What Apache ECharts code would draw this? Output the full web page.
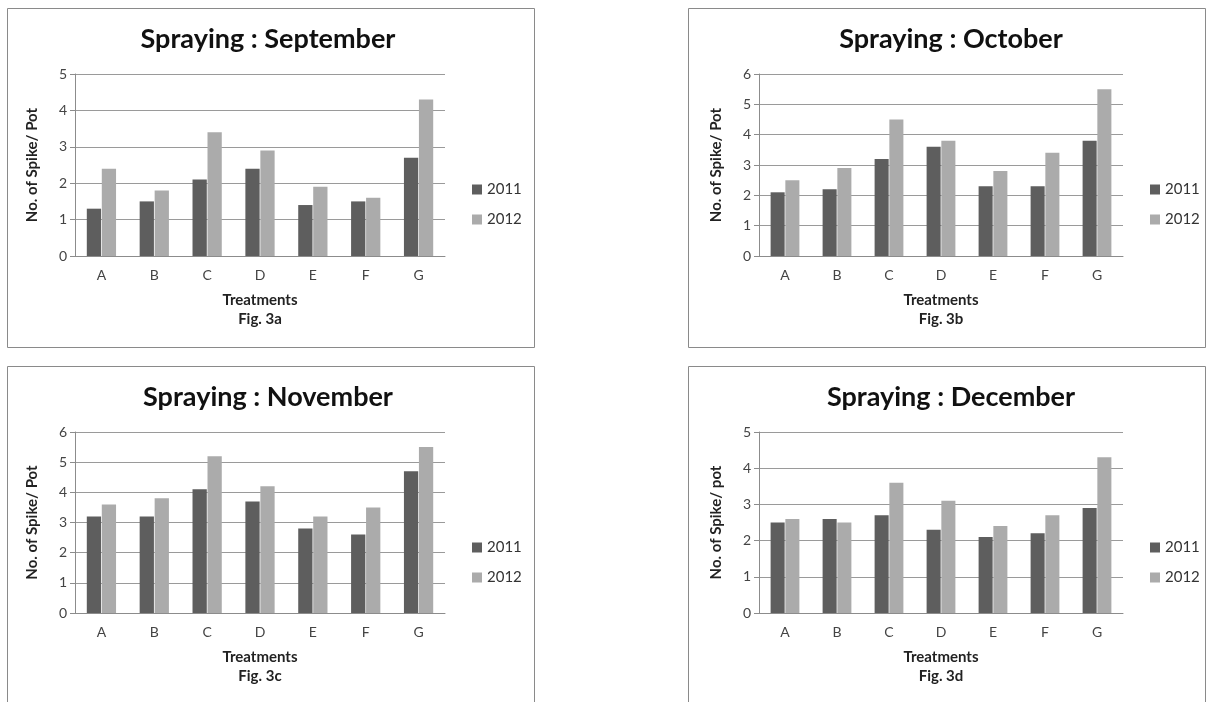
<!DOCTYPE html>
<html><head><meta charset="utf-8">
<script src="https://cdn.jsdelivr.net/npm/echarts@6/dist/echarts.min.js"></script>
<style>html,body{margin:0;padding:0;background:#fff}#c{width:1208px;height:702px}</style>
</head><body><div id="c"></div>
<script>
const categories = ['A','B','C','D','E','F','G'];
const years = ['2011','2012'];
const sep2011 = [1.3,1.5,2.1,2.4,1.4,1.5,2.7];
const sep2012 = [2.4,1.8,3.4,2.9,1.9,1.6,4.3];
const oct2011 = [2.1,2.2,3.2,3.6,2.3,2.3,3.8];
const oct2012 = [2.5,2.9,4.5,3.8,2.8,3.4,5.5];
const nov2011 = [3.2,3.2,4.1,3.7,2.8,2.6,4.7];
const nov2012 = [3.6,3.8,5.2,4.2,3.2,3.5,5.5];
const dec2011 = [2.5,2.6,2.7,2.3,2.1,2.2,2.9];
const dec2012 = [2.6,2.5,3.6,3.1,2.4,2.7,4.3];
const titles = ['Spraying : September','Spraying : October','Spraying : November','Spraying : December'];
const figs = ['Fig. 3a','Fig. 3b','Fig. 3c','Fig. 3d'];
const yNames = ['No. of Spike/ Pot','No. of Spike/ Pot','No. of Spike/ Pot','No. of Spike/ pot'];
const yMaxes = [5,6,6,5];
const panelData = [[sep2011,sep2012],[oct2011,oct2012],[nov2011,nov2012],[dec2011,dec2012]];

const FONT = 'Lato, "Open Sans", sans-serif';
const DARK = '#5e5e5e', LIGHT = '#ababab';
const layout = [
  {left:75, top:74, width:370, height:182, box:[7,8,527,339], legX:472, legY:182, titleX:268, titleY:26, yNameX:40},
  {left:759, top:74, width:364, height:182, box:[688,8,517,339], legX:1150, legY:182, titleX:951, titleY:26, yNameX:724},
  {left:75, top:432, width:370, height:181, box:[7,366,527,345], legX:472, legY:540, titleX:268, titleY:384, yNameX:40},
  {left:759, top:432, width:364, height:181, box:[688,366,517,345], legX:1150, legY:540, titleX:951, titleY:384, yNameX:724}
];

const option = {
  animation:false,
  backgroundColor:'#fff',
  textStyle:{fontFamily:FONT},
  title:[], legend:[], grid:[], xAxis:[], yAxis:[], series:[], graphic:[]
};

layout.forEach((L,i)=>{
  option.graphic.push({type:'rect', shape:{x:L.box[0]+0.5,y:L.box[1]+0.5,width:L.box[2],height:L.box[3]},
    style:{fill:'none', stroke:'#8a8a8a', lineWidth:1}, z:-1});
  option.title.push({text:titles[i], left:L.titleX, top:L.titleY, textAlign:'center', padding:0,
    textStyle:{fontFamily:FONT, fontSize:27, fontWeight:'bold', color:'#111'}});
  option.legend.push({data:years, orient:'vertical', left:L.legX, top:L.legY, itemWidth:10, itemHeight:10,
    itemGap:15, icon:'rect', padding:0, textStyle:{fontFamily:FONT, fontSize:15, color:'#333'}, selectedMode:false});
  option.grid.push({left:L.left, top:L.top, width:L.width, height:L.height, outerBoundsMode:'none', containLabel:false});
  option.xAxis.push({type:'category', gridIndex:i, data:categories,
    name:'Treatments\n' + figs[i], nameLocation:'middle', nameGap:35,
    nameTextStyle:{fontFamily:FONT, fontSize:15, fontWeight:'bold', color:'#222', lineHeight:19, verticalAlign:'top'},
    axisLine:{lineStyle:{color:'#8c8c8c'}}, axisTick:{alignWithLabel:false, length:5, lineStyle:{color:'#8c8c8c'}},
    axisLabel:{fontFamily:FONT, fontSize:14, color:'#444', margin:12}});
  option.yAxis.push({type:'value', gridIndex:i, min:0, max:yMaxes[i], interval:1,
    name:yNames[i], nameLocation:'middle', nameGap:L.left - L.yNameX, nameRotate:90,
    nameTextStyle:{fontFamily:FONT, fontSize:15, fontWeight:'bold', color:'#222'},
    axisLine:{show:true, lineStyle:{color:'#8c8c8c'}}, axisTick:{show:true, length:5, lineStyle:{color:'#8c8c8c'}},
    axisLabel:{fontFamily:FONT, fontSize:14, color:'#444', margin:8},
    splitLine:{lineStyle:{color:'#9a9a9a', width:1}}});
  panelData[i].forEach((vals,k)=>{
    option.series.push({type:'bar', name:years[k], xAxisIndex:i, yAxisIndex:i, data:vals,
      barWidth:'27%', barGap:'5%', itemStyle:{color:k===0?DARK:LIGHT}});
  });
});

const chart = echarts.init(document.getElementById('c'), null, {renderer:'canvas'});
chart.setOption(option);
</script></body></html>
